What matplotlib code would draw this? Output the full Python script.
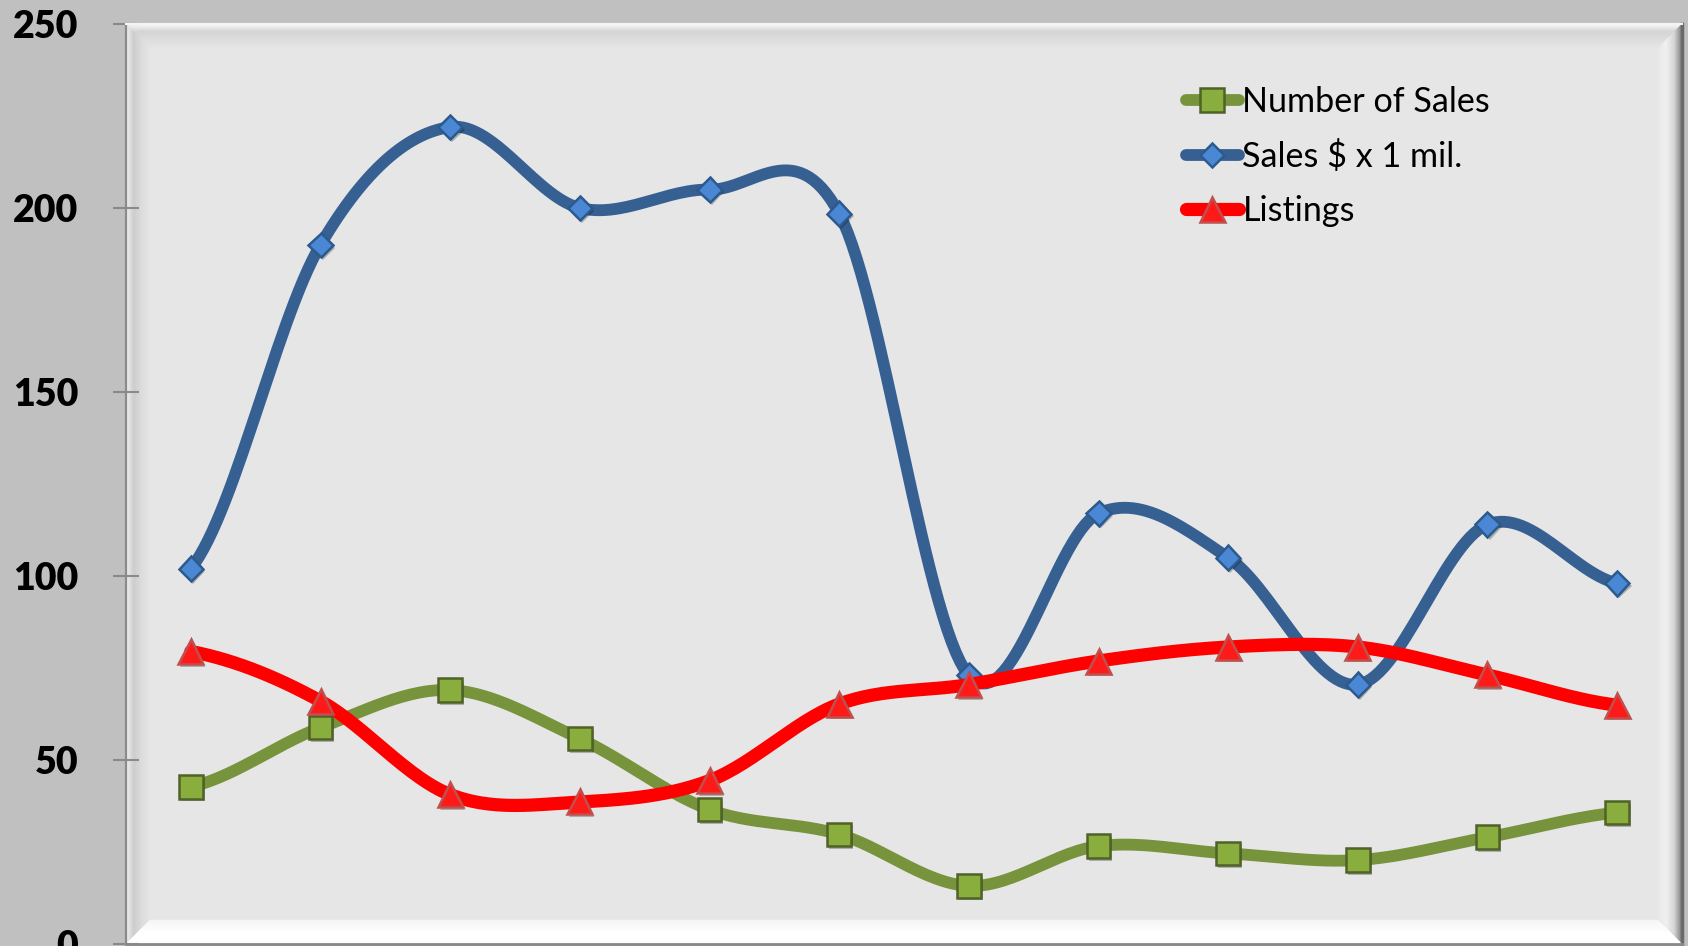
import numpy as np
import matplotlib
matplotlib.use("Agg")
import matplotlib.pyplot as plt
import matplotlib.patheffects as pe
from matplotlib.patches import Polygon
from matplotlib.colors import to_rgb

# data (12 periods, x labels not visible)
periods = list(range(1, 13))
number_of_sales = [42.7, 58.8, 69, 55.8, 36.5, 29.8, 15.8, 26.6, 24.6, 22.8, 29, 35.7]
sales_mil = [102, 190, 222, 200, 205, 198.5, 73, 117, 105, 70.5, 114, 98]
listings = [79.5, 66, 40.6, 38.6, 44.4, 65.2, 70.5, 76.9, 80.7, 80.7, 73.1, 64.9]
yticks = [0, 50, 100, 150, 200, 250]


def smooth(x, y, n=30):
    # excel-like smoothed line (cubic hermite / catmull-rom)
    x = np.asarray(x, float)
    y = np.asarray(y, float)
    yy = np.concatenate([[y[0]], y, [y[-1]]])
    m = (yy[2:] - yy[:-2]) / 2.0
    xs, ys = [], []
    for i in range(len(x) - 1):
        t = np.linspace(0, 1, n, endpoint=False)
        h00 = 2 * t**3 - 3 * t**2 + 1
        h10 = t**3 - 2 * t**2 + t
        h01 = -2 * t**3 + 3 * t**2
        h11 = t**3 - t**2
        xs.append(x[i] + t * (x[i + 1] - x[i]))
        ys.append(h00 * y[i] + h10 * m[i] + h01 * y[i + 1] + h11 * m[i + 1])
    xs.append([x[-1]])
    ys.append([y[-1]])
    return np.concatenate(xs), np.concatenate(ys)


def bevel(ax, outer, inner, colors, n=24):
    # draw a trapezoid in strips, colour going from outer edge to inner edge
    outer = np.array(outer)
    inner = np.array(inner)
    stops = np.linspace(0, 1, len(colors))
    cols = np.array([to_rgb(c) for c in colors])
    ts = np.linspace(0, 1, n + 1)
    for k in range(n):
        a, b = ts[k], ts[k + 1]
        e1 = outer + (inner - outer) * a
        e2 = outer + (inner - outer) * b
        mid = (a + b) / 2
        c = [np.interp(mid, stops, cols[:, j]) for j in range(3)]
        poly = Polygon([e1[0], e1[1], e2[1], e2[0]], closed=True, transform=ax.transAxes,
                       facecolor=c, edgecolor=c, lw=0.3, zorder=0.5)
        ax.add_patch(poly)


plt.rcParams['font.family'] = ['Lato', 'DejaVu Sans']

fig = plt.figure(figsize=(16.88, 9.46), dpi=100)
fig.patch.set_facecolor('#c0c0c0')
ax = fig.add_axes([126 / 1688, 2 / 946, 1556 / 1688, 920 / 946])
ax.set_facecolor('#e6e6e6')

bx = 24 / 1556
by = 24 / 920
# top, left, right, bottom bevel
bevel(ax, [(0, 1), (1, 1)], [(bx, 1 - by), (1 - bx, 1 - by)], ['#fbfbfb', '#d4d4d4', '#dedede', '#e5e5e5'])
bevel(ax, [(0, 1), (0, 0)], [(bx, 1 - by), (bx, by)], ['#f2f2f2', '#cdcdcd', '#dcdcdc', '#e5e5e5'])
bevel(ax, [(1, 1), (1, 0)], [(1 - bx, 1 - by), (1 - bx, by)], ['#7a7a7a', '#d6d6d6', '#f0f0f0', '#e8e8e8'])
bevel(ax, [(0, 0), (1, 0)], [(bx, by), (1 - bx, by)], ['#ffffff', '#ffffff', '#f6f6f6'])

x = np.arange(len(periods))
shadow = [pe.SimplePatchShadow(offset=(1.5, -2), shadow_rgbFace='#000000', alpha=0.25), pe.Normal()]

series = [
    (number_of_sales, 'Number of Sales', '#77933c', 's', 17, '#8aae3e', '#4f6228', 8.5),
    (sales_mil, 'Sales $ x 1 mil.', '#376092', 'D', 12.5, '#4a88d6', '#2c5a8c', 8.5),
    (listings, 'Listings', '#ff0000', '^', 18, '#ff1a1a', '#c0504d', 9.5),
]
handles = []
for i, (vals, name, col, mk, ms, fc, ec, lw) in enumerate(series):
    sx, sy = smooth(x, vals)
    ax.plot(sx, sy, color=col, lw=lw, solid_capstyle='round', zorder=2 + i)
    ax.plot(x, vals, ls='none', marker=mk, ms=ms, mfc=fc, mec=ec, mew=1.8, zorder=2 + i,
            path_effects=shadow)
    h, = ax.plot([], [], color=col, lw=lw, solid_capstyle='round', marker=mk, ms=ms,
                 mfc=fc, mec=ec, mew=1.8, label=name)
    handles.append(h)

ax.set_xlim(-0.5, len(periods) - 0.5)
ax.set_ylim(0, 250)
ax.set_xticks([])
ax.set_yticks(yticks)
ax.set_yticklabels([str(v) for v in yticks], fontsize=27, fontweight='heavy')
ax.tick_params(axis='y', direction='inout', length=18.5, width=1.5, color='#8a8a8a', pad=25)

ax.spines['left'].set_color('#8a8a8a')
ax.spines['left'].set_linewidth(1.6)
ax.spines['bottom'].set_color('#8a8a8a')
ax.spines['bottom'].set_linewidth(2)
ax.spines['right'].set_color('#6a6a6a')
ax.spines['right'].set_linewidth(2.5)
ax.spines['top'].set_color('#f4f4f4')
ax.spines['top'].set_linewidth(1.5)

leg = fig.legend(handles=handles, loc='upper left', bbox_to_anchor=(1186 / 1688, 1 - 86 / 946),
                 frameon=False, fontsize=24.6, handlelength=1.55, handletextpad=0.1,
                 labelspacing=0.64, borderpad=0, borderaxespad=0, numpoints=1)

fig.savefig('out.png', dpi=100, facecolor=fig.get_facecolor())
